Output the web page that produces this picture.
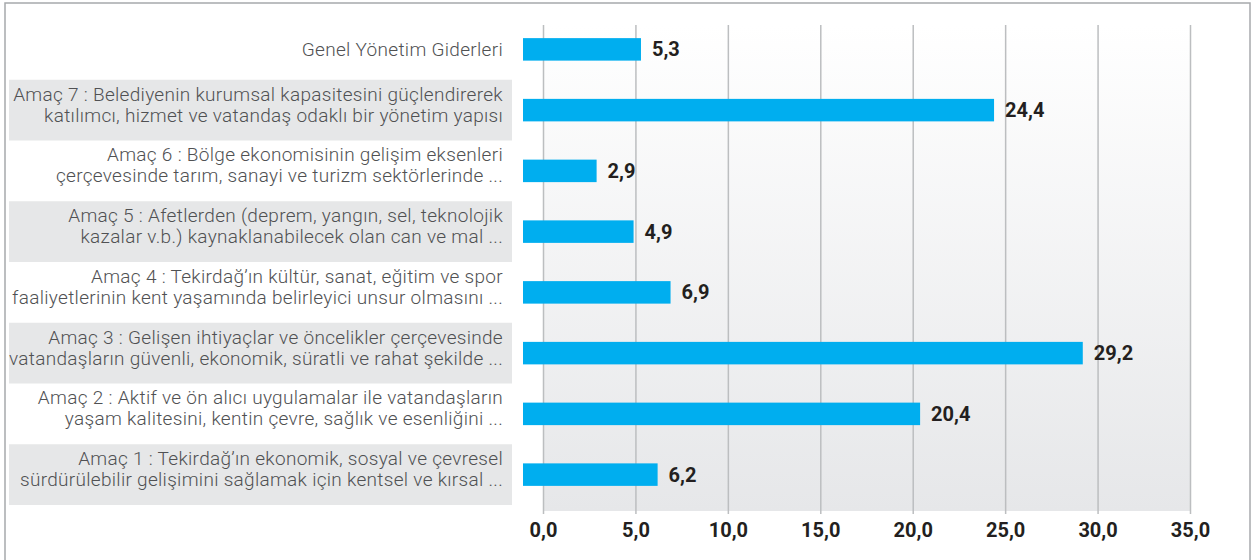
<!DOCTYPE html>
<html>
<head>
<meta charset="utf-8">
<script src="https://cdn.jsdelivr.net/npm/d3@7"></script>
<style>
  body { margin: 0; background: #fff; }
  svg { display: block; }
  .cat-label { font-family: Roboto, 'Liberation Sans', sans-serif; font-weight: 300; font-size: 19px; letter-spacing: 0.3px; fill: #505153; }
  .val-label { font-family: Roboto, 'Liberation Sans', sans-serif; font-weight: 700; font-size: 20px; fill: #231f20; }
  .x-axis text { font-family: Roboto, 'Liberation Sans', sans-serif; font-weight: 700; font-size: 20px; fill: #231f20; }
</style>
</head>
<body>
<div id="chart"></div>
<script>
// categories from top to bottom, each split into its two printed lines
const categories = ['Genel', 'Amaç 7', 'Amaç 6', 'Amaç 5', 'Amaç 4', 'Amaç 3', 'Amaç 2', 'Amaç 1']

const labelLines = [
  ['Genel Yönetim Giderleri'],
  ['Amaç 7 : Belediyenin kurumsal kapasitesini güçlendirerek', 'katılımcı, hizmet ve vatandaş odaklı bir yönetim yapısı'],
  ['Amaç 6 : Bölge ekonomisinin gelişim eksenleri', 'çerçevesinde tarım, sanayi ve turizm sektörlerinde ...'],
  ['Amaç 5 : Afetlerden (deprem, yangın, sel, teknolojik', 'kazalar v.b.) kaynaklanabilecek olan can ve mal ...'],
  ['Amaç 4 : Tekirdağ’ın kültür, sanat, eğitim ve spor', 'faaliyetlerinin kent yaşamında belirleyici unsur olmasını ...'],
  ['Amaç 3 : Gelişen ihtiyaçlar ve öncelikler çerçevesinde', 'vatandaşların güvenli, ekonomik, süratli ve rahat şekilde ...'],
  ['Amaç 2 : Aktif ve ön alıcı uygulamalar ile vatandaşların', 'yaşam kalitesini, kentin çevre, sağlık ve esenliğini ...'],
  ['Amaç 1 : Tekirdağ’ın ekonomik, sosyal ve çevresel', 'sürdürülebilir gelişimini sağlamak için kentsel ve kırsal ...']
]

const values = [5.3, 24.4, 2.9, 4.9, 6.9, 29.2, 20.4, 6.2]

const xTicks = [0, 5, 10, 15, 20, 25, 30, 35]

var width = 1252
var height = 560

var svg = d3
  .select('#chart')
  .append('svg')
  .attr('width', width)
  .attr('height', height)

var datapoints = categories.map((c, i) => {
  return { key: c, lines: labelLines[i], value: values[i], index: i }
})

const xPositionScale = d3
  .scaleLinear()
  .domain([0, 35])
  .range([543, 1190])

const yPositionScale = d3
  .scaleBand()
  .domain(categories)
  .range([19, 505])

var gridTop = 25
var gridBottom = 514

// plot background gradient
var grad = svg
  .append('defs')
  .append('linearGradient')
  .attr('id', 'plotbg')
  .attr('x1', 0)
  .attr('y1', 0)
  .attr('x2', 0)
  .attr('y2', 1)
grad.append('stop').attr('offset', '0%').attr('stop-color', '#ffffff')
grad.append('stop').attr('offset', '100%').attr('stop-color', '#e6e7e9')

svg
  .append('rect')
  .attr('x', xPositionScale(0))
  .attr('y', gridTop)
  .attr('width', xPositionScale(35) - xPositionScale(0))
  .attr('height', 511 - gridTop)
  .attr('fill', 'url(#plotbg)')

// grey label stripes on every other row
svg
  .selectAll('.stripe')
  .data(datapoints.filter(d => d.index % 2 === 1))
  .enter()
  .append('rect')
  .attr('class', 'stripe')
  .attr('x', 9)
  .attr('y', d => yPositionScale(d.key))
  .attr('width', 503)
  .attr('height', yPositionScale.bandwidth())
  .attr('fill', '#e6e7e8')

var xAxis = d3
  .axisBottom(xPositionScale)
  .tickValues(xTicks)
  .tickSize(-(gridBottom - gridTop))
  .tickPadding(9)
  .tickFormat(d => d3.format('.1f')(d).replace('.', ','))

svg
  .append('g')
  .attr('class', 'axis x-axis')
  .attr('transform', 'translate(0,' + gridBottom + ')')
  .call(xAxis)

svg.select('.x-axis .domain').remove()
svg
  .selectAll('.x-axis line')
  .attr('stroke', '#bcbec0')
  .attr('stroke-width', 1.5)

// bars begin a little left of the zero line, as in the original
var barLead = 20
var barHeight = 22.5

svg
  .selectAll('.bar')
  .data(datapoints)
  .enter()
  .append('rect')
  .attr('class', 'bar')
  .attr('x', xPositionScale(0) - barLead)
  .attr('y', d => yPositionScale(d.key) + yPositionScale.bandwidth() / 2 - barHeight / 2)
  .attr('width', d => xPositionScale(d.value) - xPositionScale(0) + barLead)
  .attr('height', barHeight)
  .attr('fill', '#00aeef')

svg
  .selectAll('.val-label')
  .data(datapoints)
  .enter()
  .append('text')
  .attr('class', 'val-label')
  .attr('x', d => xPositionScale(d.value) + 11)
  .attr('y', d => yPositionScale(d.key) + yPositionScale.bandwidth() / 2 + 7)
  .text(d => d.value.toFixed(1).replace('.', ','))

var labels = svg
  .selectAll('.cat-label')
  .data(datapoints)
  .enter()
  .append('text')
  .attr('class', 'cat-label')
  .attr('text-anchor', 'end')

labels
  .selectAll('tspan')
  .data(d => d.lines.map((t, j) => ({ t: t, j: j, n: d.lines.length, key: d.key })))
  .enter()
  .append('tspan')
  .attr('x', 503)
  .attr('y', l => {
    var mid = yPositionScale(l.key) + yPositionScale.bandwidth() / 2
    if (l.n === 1) return mid + 7
    return l.j === 0 ? mid - 9.5 : mid + 11.5
  })
  .text(l => l.t)

// outer frame
svg
  .append('rect')
  .attr('x', 5)
  .attr('y', 3)
  .attr('width', 1245)
  .attr('height', 620)
  .attr('fill', 'none')
  .attr('stroke', '#a7a9ac')
  .attr('stroke-width', 1.5)
</script>
</body>
</html>
